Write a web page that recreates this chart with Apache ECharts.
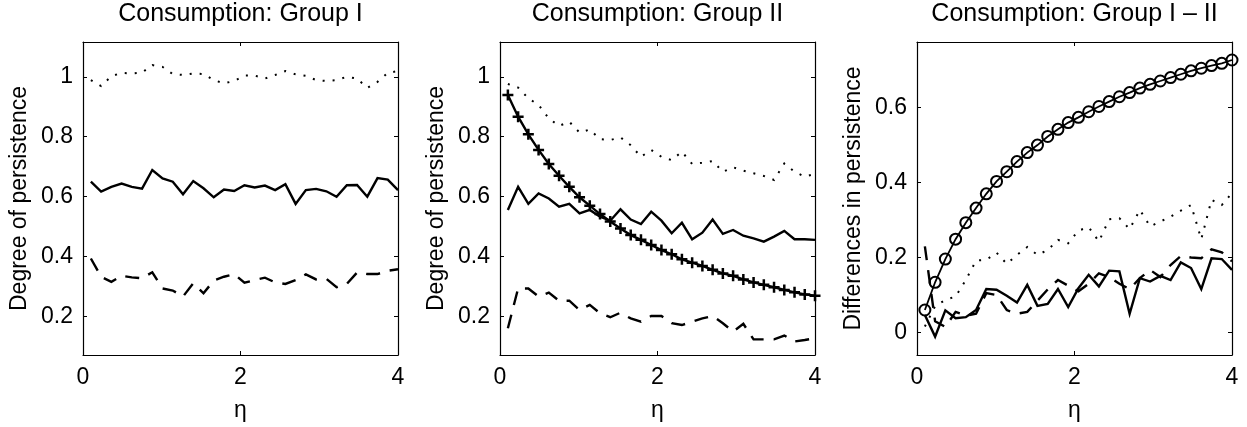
<!DOCTYPE html>
<html>
<head>
<meta charset="utf-8">
<script src="https://cdn.jsdelivr.net/npm/echarts@6/dist/echarts.min.js"></script>
<style>
  html, body { margin: 0; padding: 0; background: #fff; }
  #chart { width: 1247px; height: 427px; }
</style>
</head>
<body>
<div id="chart"></div>
<script>
// η grid shared by all three panels
const eta = [0.1, 0.23, 0.36, 0.49, 0.62, 0.75, 0.88, 1.01, 1.14, 1.27, 1.4, 1.53, 1.66, 1.79, 1.92, 2.05,
  2.18, 2.31, 2.44, 2.57, 2.7, 2.83, 2.96, 3.09, 3.22, 3.35, 3.48, 3.61, 3.74, 3.87, 4.0];
const xTicks = [0, 2, 4];

// Group I
const g1Solid = [0.65, 0.617, 0.633, 0.644, 0.633, 0.627, 0.689, 0.661, 0.65, 0.608, 0.652, 0.628, 0.598, 0.624,
  0.619, 0.638, 0.631, 0.637, 0.622, 0.642, 0.576, 0.622, 0.626, 0.618, 0.6, 0.638, 0.639, 0.6, 0.662, 0.657, 0.622];
const g1Dotted = [0.989, 0.969, 1.002, 1.013, 1.011, 1.014, 1.039, 1.033, 1.009, 1.006, 1.011, 1.009, 0.989, 0.978,
  0.986, 1.004, 1.004, 0.994, 1.006, 1.019, 1.008, 1.003, 0.989, 0.986, 0.989, 1.0, 0.994, 0.963, 0.983, 1.013, 1.019];
const g1Dashed = [0.394, 0.333, 0.316, 0.336, 0.331, 0.328, 0.348, 0.294, 0.287, 0.267, 0.311, 0.278, 0.32, 0.333,
  0.342, 0.313, 0.322, 0.33, 0.314, 0.309, 0.322, 0.341, 0.324, 0.326, 0.298, 0.309, 0.347, 0.342, 0.342, 0.353, 0.358];

// Group II
const g2Plus = [0.939, 0.867, 0.808, 0.756, 0.709, 0.67, 0.633, 0.598, 0.57, 0.542, 0.517, 0.494, 0.472, 0.456,
  0.439, 0.422, 0.408, 0.391, 0.38, 0.369, 0.356, 0.344, 0.336, 0.324, 0.314, 0.306, 0.298, 0.289, 0.281, 0.274, 0.27];
const g2Solid = [0.556, 0.633, 0.576, 0.611, 0.594, 0.567, 0.576, 0.544, 0.556, 0.533, 0.52, 0.558, 0.524, 0.509,
  0.55, 0.52, 0.478, 0.513, 0.458, 0.48, 0.524, 0.476, 0.489, 0.47, 0.461, 0.45, 0.467, 0.486, 0.458, 0.458, 0.456];
const g2Dotted = [0.976, 0.964, 0.928, 0.906, 0.861, 0.836, 0.85, 0.814, 0.824, 0.792, 0.789, 0.798, 0.772, 0.733,
  0.756, 0.733, 0.722, 0.75, 0.709, 0.713, 0.719, 0.683, 0.698, 0.687, 0.678, 0.669, 0.656, 0.711, 0.683, 0.667, 0.676];
const g2Dashed = [0.161, 0.294, 0.294, 0.267, 0.28, 0.253, 0.253, 0.222, 0.239, 0.211, 0.198, 0.213, 0.194, 0.183,
  0.202, 0.202, 0.178, 0.172, 0.183, 0.194, 0.202, 0.178, 0.15, 0.176, 0.124, 0.124, 0.124, 0.137, 0.117, 0.122, 0.128];

// Group I - II
const g3Circle = [0.06, 0.134, 0.196, 0.249, 0.293, 0.332, 0.37, 0.403, 0.429, 0.456, 0.48, 0.5, 0.523, 0.542,
  0.56, 0.574, 0.589, 0.603, 0.616, 0.629, 0.64, 0.652, 0.662, 0.671, 0.68, 0.689, 0.698, 0.705, 0.712, 0.718, 0.727];
const g3Solid = [0.047, -0.011, 0.059, 0.038, 0.041, 0.06, 0.116, 0.114, 0.098, 0.08, 0.127, 0.071, 0.076, 0.116,
  0.068, 0.118, 0.154, 0.123, 0.165, 0.163, 0.05, 0.145, 0.136, 0.151, 0.14, 0.187, 0.172, 0.116, 0.198, 0.196, 0.167];
const g3Dotted = [0.016, 0.07, 0.087, 0.096, 0.14, 0.192, 0.194, 0.213, 0.183, 0.207, 0.228, 0.207, 0.22, 0.247,
  0.238, 0.272, 0.281, 0.243, 0.302, 0.305, 0.276, 0.327, 0.283, 0.296, 0.309, 0.325, 0.34, 0.249, 0.354, 0.34, 0.372];
const g3Dashed = [0.23, 0.03, 0.015, 0.055, 0.045, 0.05, 0.105, 0.1, 0.06, 0.05, 0.055, 0.085, 0.115, 0.14,
  0.125, 0.11, 0.13, 0.158, 0.148, 0.13, 0.116, 0.145, 0.167, 0.148, 0.18, 0.204, 0.2, 0.198, 0.222, 0.214, 0.19];

const FONT = '"Liberation Sans", Arial, Helvetica, sans-serif';
const FS = 23;       // axis labels
const FS_TITLE = 25; // titles
const GRID_TOP = 42;
const GRID_W = 315;
const GRID_H = 313;

const panels = [
  { left: 83, title: 'Consumption: Group I', yName: 'Degree of persistence', yMin: 0.072, yMax: 1.116,
    lines: [[g1Dotted, 'dotted'], [g1Solid, 'solid'], [g1Dashed, 'dashed']] },
  { left: 500, title: 'Consumption: Group II', yName: 'Degree of persistence', yMin: 0.072, yMax: 1.116,
    lines: [[g2Dotted, 'dotted'], [g2Solid, 'solid'], [g2Dashed, 'dashed'], [g2Plus, 'plus']] },
  { left: 917, title: 'Consumption: Group I \u2013 II', yName: 'Differences in persistence', yMin: -0.06, yMax: 0.775,
    lines: [[g3Dotted, 'dotted'], [g3Solid, 'solid'], [g3Dashed, 'dashed'], [g3Circle, 'circle']] },
];

const pairs = (ys) => eta.map((x, i) => [x, ys[i]]);

// line style per MATLAB linespec
const makeSeries = (ys, kind, idx) => {
  const s = {
    type: 'line',
    xAxisIndex: idx * 2,
    yAxisIndex: idx * 2,
    data: pairs(ys),
    symbol: 'none',
    silent: true,
    lineStyle: { color: '#000', width: 2.4, type: 'solid', cap: 'butt', join: 'miter' },
  };
  if (kind === 'dotted') {
    s.lineStyle.width = 2;
    s.lineStyle.type = [2, 8];
  } else if (kind === 'dashed') {
    s.lineStyle.type = [14, 10];
  } else if (kind === 'plus') {
    s.symbol = 'path://M0,6L12,6M6,0L6,12';
    s.symbolSize = 11;
    s.itemStyle = { color: 'rgba(0,0,0,0)', borderColor: '#000', borderWidth: 2.5 };
  } else if (kind === 'circle') {
    s.symbol = 'circle';
    s.symbolSize = 11;
    s.lineStyle.width = 1.8;
    s.itemStyle = { color: 'rgba(0,0,0,0)', borderColor: '#000', borderWidth: 2 };
  }
  return s;
};

const tickStyle = { show: true, inside: true, length: 4, lineStyle: { color: '#000', width: 1 } };
const lineAxis = { show: true, onZero: false, lineStyle: { color: '#000', width: 1.2 } };
const labelText = { color: '#000', fontFamily: FONT, fontSize: FS };

const grid = [];
const xAxis = [];
const yAxis = [];
const title = [];
let series = [];

panels.forEach((p, i) => {
  grid.push({ left: p.left, top: GRID_TOP, width: GRID_W, height: GRID_H, containLabel: false });
  title.push({
    text: p.title, left: p.left + GRID_W / 2, top: 2, textAlign: 'center', padding: 0,
    textStyle: { fontFamily: FONT, fontSize: FS_TITLE, fontWeight: 'normal', color: '#000' },
  });
  // bottom axis with labels, top axis only mirrors the ticks
  xAxis.push({
    type: 'value', gridIndex: i, position: 'bottom', min: xTicks[0], max: xTicks[2], interval: 2,
    axisLine: lineAxis, axisTick: tickStyle, splitLine: { show: false },
    axisLabel: { ...labelText, margin: 11 },
    name: '\u03b7', nameLocation: 'middle', nameGap: 44, nameTextStyle: labelText,
  });
  xAxis.push({
    type: 'value', gridIndex: i, position: 'top', min: xTicks[0], max: xTicks[2], interval: 2,
    axisLine: lineAxis, axisTick: tickStyle, splitLine: { show: false }, axisLabel: { show: false },
  });
  // y range is not a tick multiple, so let the scale pick 0.2 steps itself
  yAxis.push({
    type: 'value', gridIndex: i, position: 'left', min: p.yMin, max: p.yMax, splitNumber: 5,
    axisLine: lineAxis, axisTick: tickStyle, splitLine: { show: false },
    axisLabel: { ...labelText, margin: 10, showMinLabel: false, showMaxLabel: false },
    name: p.yName, nameLocation: 'middle', nameGap: 52, nameRotate: 90, nameTextStyle: labelText,
  });
  yAxis.push({
    type: 'value', gridIndex: i, position: 'right', min: p.yMin, max: p.yMax, splitNumber: 5,
    axisLine: lineAxis, axisTick: tickStyle, splitLine: { show: false }, axisLabel: { show: false },
  });
  series = series.concat(p.lines.map(([ys, kind]) => makeSeries(ys, kind, i)));
});

const chart = echarts.init(document.getElementById('chart'));
chart.setOption({
  animation: false,
  backgroundColor: '#fff',
  title,
  grid,
  xAxis,
  yAxis,
  series,
});
</script>
</body>
</html>
